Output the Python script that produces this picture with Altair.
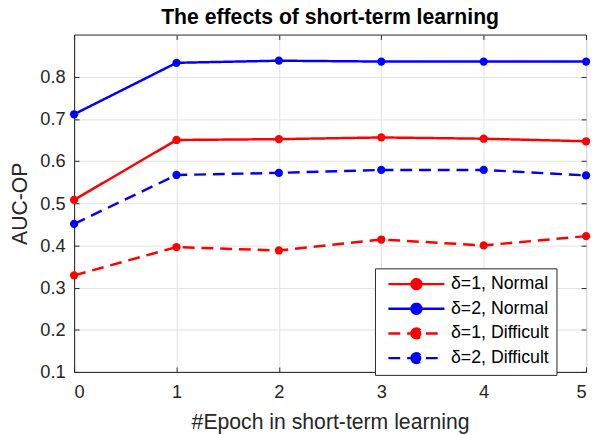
import altair as alt
import pandas as pd

epochs = [0, 1, 2, 3, 4, 5]
series_names = ["δ=1, Normal", "δ=2, Normal", "δ=1, Difficult", "δ=2, Difficult"]
d1_normal = [0.508, 0.650, 0.652, 0.656, 0.653, 0.647]
d2_normal = [0.711, 0.833, 0.838, 0.836, 0.836, 0.836]
d1_difficult = [0.329, 0.396, 0.388, 0.414, 0.400, 0.422]
d2_difficult = [0.451, 0.567, 0.572, 0.579, 0.579, 0.566]
series_colors = ["#ff0000", "#0000ff", "#ff0000", "#0000ff"]
series_dashes = [[1, 0], [1, 0], [12, 7], [12, 7]]
y_ticks = [0.1, 0.2, 0.3, 0.4, 0.5, 0.6, 0.7, 0.8]

rows = []
for name, vals in zip(series_names, [d1_normal, d2_normal, d1_difficult, d2_difficult]):
    for e, v in zip(epochs, vals):
        rows.append({"epoch": e, "auc": v, "series": name})
df = pd.DataFrame(rows)

FONT = "Liberation Sans"
AX = "#262626"
W, H = 519, 342

xs = alt.Scale(domain=[0, 5], nice=False, zero=False)
ys = alt.Scale(domain=[0.1, 0.9], nice=False, zero=False)

x = alt.X("epoch:Q", scale=xs,
          axis=alt.Axis(values=epochs, format="d", title="#Epoch in short-term learning",
                        titleY=57, titleBaseline="alphabetic", titleFontSize=21.5,
                        labelPadding=11))
y = alt.Y("auc:Q", scale=ys,
          axis=alt.Axis(values=y_ticks, format=".1f", title="AUC-OP",
                        titleX=-48, titleY=H / 2, titleAngle=-90, titleAlign="center",
                        titleBaseline="alphabetic", titleFontSize=21.5, labelPadding=9))

sym = "M-7.1,0L7.1,0M-1.25,0A1.25,1.25,0,1,1,1.25,0A1.25,1.25,0,1,1,-1.25,0Z"
legend = alt.Legend(title=None, orient="none", legendX=305, legendY=237,
                    symbolType=sym, symbolSize=64, symbolStrokeWidth=2.5,
                    symbolOffset=26,
                    labelFontSize=18, labelFont=FONT, labelColor="#000000",
                    strokeColor="#262626", fillColor="#ffffff", padding=7,
                    rowPadding=5, labelOffset=26)

color_scale = alt.Scale(domain=series_names, range=series_colors)
dash_scale = alt.Scale(domain=series_names, range=series_dashes)

lines = alt.Chart(df).mark_line(strokeWidth=2.5).encode(
    x=x, y=y,
    stroke=alt.Stroke("series:N", scale=color_scale, legend=legend),
    strokeDash=alt.StrokeDash("series:N", scale=dash_scale, legend=legend),
    detail="series:N",
)
points = alt.Chart(df).mark_point(filled=True, size=70, opacity=1).encode(
    x=x, y=y,
    fill=alt.Fill("series:N", scale=color_scale, legend=legend),
)
data_layer = alt.layer(lines, points)

tick_common = dict(labels=False, title="", grid=False, domain=False, tickSize=5,
                   tickColor=AX, tickWidth=1, minExtent=0, maxExtent=0)
ticks_a = alt.Chart(df).mark_point(opacity=0).encode(
    x=alt.X("epoch:Q", scale=xs,
            axis=alt.Axis(orient="top", offset=-H, values=epochs, **tick_common)),
    y=alt.Y("auc:Q", scale=ys,
            axis=alt.Axis(orient="right", offset=-W, values=y_ticks, **tick_common)),
)
ticks_b = alt.Chart(df).mark_point(opacity=0).encode(
    x=alt.X("epoch:Q", scale=xs,
            axis=alt.Axis(orient="bottom", offset=-H, values=epochs, **tick_common)),
    y=alt.Y("auc:Q", scale=ys,
            axis=alt.Axis(orient="left", offset=-W, values=y_ticks, **tick_common)),
)

chart = alt.layer(data_layer, ticks_a, ticks_b).resolve_scale(
    x="independent", y="independent"
).properties(
    width=W, height=H,
    title=alt.TitleParams("The effects of short-term learning", fontSize=21.5,
                          fontWeight="bold", font=FONT, color="#000000", offset=6,
                          frame="group"),
    autosize=alt.AutoSizeParams(type="none"),
    padding={"left": 67, "top": 24, "right": 5, "bottom": 60},
).configure_axis(
    labelFont=FONT, titleFont=FONT, labelFontSize=18.5, labelColor=AX, titleColor=AX,
    titleFontWeight="normal", domainColor=AX, tickSize=0, gridColor="#e3e3e3",
    grid=True, domain=True,
).configure_view(
    stroke=AX, strokeWidth=1,
)

chart.save("out.html", embed_options={"renderer": "svg", "actions": False})
